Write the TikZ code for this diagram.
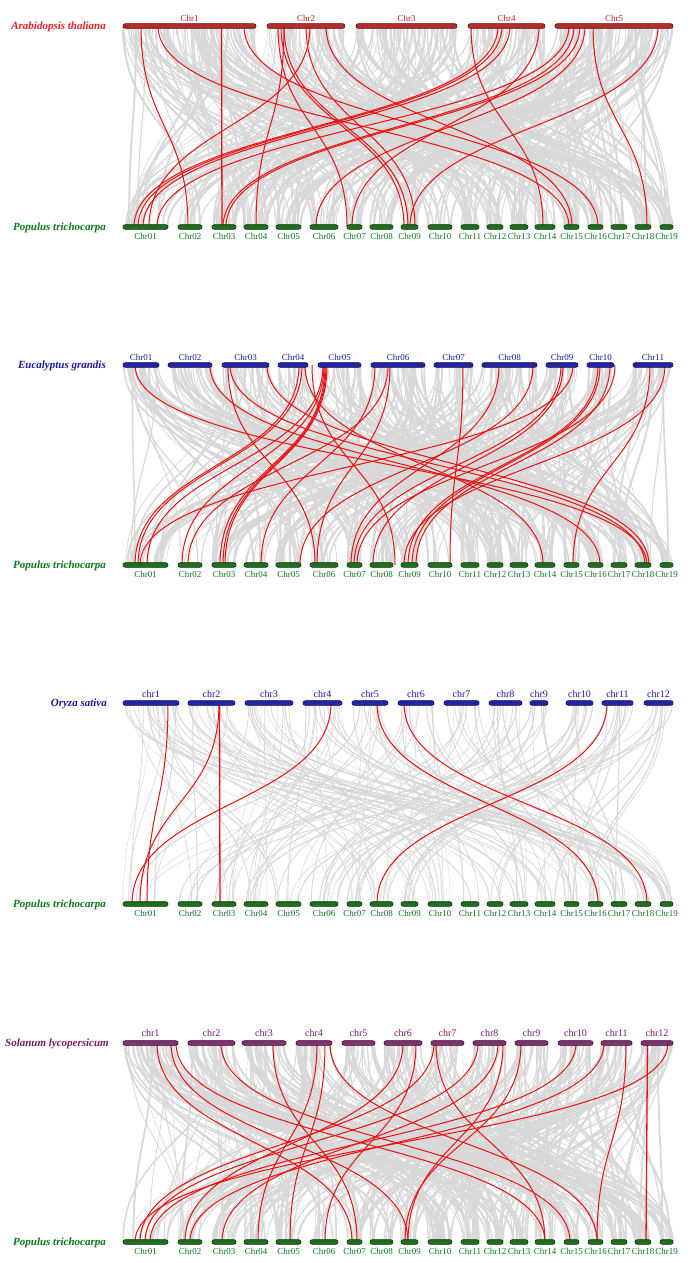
\documentclass[tikz,border=0pt]{standalone}
\usepackage{fontspec}
\setmainfont{Liberation Serif}
\definecolor{grayl}{RGB}{216,216,216}
\definecolor{redl}{RGB}{232,16,16}
\definecolor{arabred}{RGB}{228,32,36}
\definecolor{arabbar}{RGB}{182,44,44}
\definecolor{arabedge}{RGB}{90,16,16}
\definecolor{popgreen}{RGB}{10,120,30}
\definecolor{popbar}{RGB}{30,112,30}
\definecolor{popedge}{RGB}{10,50,10}
\definecolor{eublue}{RGB}{26,26,160}
\definecolor{eubar}{RGB}{36,36,170}
\definecolor{euedge}{RGB}{12,12,70}
\definecolor{solpurp}{RGB}{120,26,104}
\definecolor{solbar}{RGB}{130,50,115}
\definecolor{soledge}{RGB}{50,10,40}
\tikzset{
  graylink/.style={draw=grayl},
  redlink/.style={draw=redl,line width=1pt},
  chrbar/.style={line width=0.6pt,rounded corners=2.2pt},
  species/.style={font=\bfseries\itshape\fontsize{11}{12}\selectfont,anchor=east,inner sep=0pt},
  chrlab/.style={font=\fontsize{9}{10}\selectfont,inner sep=0pt},
  chrlabb/.style={font=\fontsize{10}{11}\selectfont,inner sep=0pt},
}
\def\PopBars{123/168,178/202,212/236,244/268,276/301,310/338,347/362,370/393,401/418,428/452,461/479,487/503,510/528,535/555,564/579,588/603,611/627,635/651,660/673}
\def\ABars{123/256,267/345,356/457,468/545,555/673}
\def\EBars{123/159,168/212,222/269,278/308,318/361,371/425,434/473,482/537,546/578,587/614,633/673}
\def\OBars{123/179,188/235,245/293,303/342,352/388,398/434,444/479,489/522,530/548,566/593,602/633,644/673}
\def\SBars{123/178,188/235,242/286,296/332,342/375,384/422,431/464,473/506,515/548,558/593,601/632,641/673}
\newcommand\graylinks[5]{%
  \pgfmathsetmacro\gmy{(#2+#3)/2}
  \foreach \s/\e in #1 {
    \pgfmathtruncatemacro\gn{max(1,round((\e-\s)/#4))}
    \foreach \k in {1,...,\gn} {
      \pgfmathsetmacro\gtx{\s+rnd*(\e-\s)}
      \pgfmathtruncatemacro\gbi{min(18,int(rnd*19))}
      \pgfmathsetmacro\gbs{{123,178,212,244,276,310,347,370,401,428,461,487,510,535,564,588,611,635,660}[\gbi]}
      \pgfmathsetmacro\gbe{{168,202,236,268,301,338,362,393,418,452,479,503,528,555,579,603,627,651,673}[\gbi]}
      \pgfmathsetmacro\gbx{\gbs+rnd*(\gbe-\gbs)}
      \pgfmathsetmacro\glw{0.3+rnd*#5}
      \draw[graylink,line width=\glw pt] (\gtx,#2) .. controls (\gtx,\gmy) and (\gbx,\gmy) .. (\gbx,#3);
    }}}
\newcommand\redlinks[3]{%
  \pgfmathsetmacro\rmy{(#2+#3)/2}
  \foreach \a/\b in {#1}
    \draw[redlink] (\a,#2) .. controls (\a,\rmy) and (\b,\rmy) .. (\b,#3);}
\newcommand\bars[4]{% list, y, fill, edge
  \foreach \s/\e in #1
    \draw[chrbar,fill=#3,draw=#4] (\s,#2-2.3) rectangle (\e,#2+2.3);}
\newcommand\poplabels[1]{%
  \foreach \s/\e [count=\i] in \PopBars {
    \pgfmathsetmacro\cx{(\s+\e)/2}
    \ifnum\i<10 \node[chrlab,text=popgreen] (p#1l\i) at (\cx,#1+9) {Chr0\i};
    \else \node[chrlab,text=popgreen] (p#1l\i) at (\cx,#1+9) {Chr\i};\fi
  }}
\newcommand\toplabels[6]{% list, y, color, prefix, zero-pad, style
  \foreach \s/\e [count=\i] in #1 {
    \pgfmathsetmacro\cx{(\s+\e)/2}
    \ifnum\i<10 \node[#6,text=#3] at (\cx,#2) {#4#5\i};
    \else \node[#6,text=#3] at (\cx,#2) {#4\i};\fi
  }}
\begin{document}
\begin{tikzpicture}[x=1pt,y=-1pt]
\useasboundingbox (0,0) rectangle (692,1263);
\fill[white] (0,0) rectangle (692,1263);
\pgfmathsetseed{11}
% ---------- gray links ----------
\graylinks{\ABars}{26}{227}{1.3}{1.8}
\graylinks{\EBars}{365}{565}{1.3}{1.8}
\graylinks{\OBars}{703}{904}{2.6}{0.9}
\graylinks{\SBars}{1043}{1242}{1.25}{1.8}
% ---------- red links ----------
\redlinks{141/188,158/569,244/598,284/256,310/149,278/347,281/404,284/408,306/415,326/572,471/543,498/134,502/138,510/143,539/352,569/157,574/223,580/226,593/647,658/410,585/316}{26}{227}
\redlinks{135/647,210/600,228/315,230/645,267/649,299/135,302/138,305/543,312/395,323/147,324/182,325/220,326/223,327/225,375/261,388/188,390/317,463/450,499/351,533/300,561/354,563/373,573/140,598/408,600/412,610/416,615/357,650/573,665/404}{365}{565}
\redlinks{168/147,219/140,331/132,377/598,404/647,607/377}{703}{904}
\redlinks{157/352,171/408,176/545,221/570,273/357,317/258,325/290,330/597,403/185,416/325,434/140,436/545,478/145,498/222,503/408,521/405,576/150,604/190,626/597,668/135}{1043}{1242}
% near-vertical links drawn straight
\draw[redlink,line width=1.3pt] (221.5,26) -- (222,227);
\draw[redlink,line width=1.3pt] (219.5,703) -- (220,904);
\draw[redlink,line width=1.3pt] (647.5,1043) -- (646,1242);
% ---------- bars ----------
\bars{\ABars}{26}{arabbar}{arabedge}
\bars{\EBars}{365}{eubar}{euedge}
\bars{\OBars}{703}{eubar}{euedge}
\bars{\SBars}{1043}{solbar}{soledge}
\bars{\PopBars}{227}{popbar}{popedge}
\bars{\PopBars}{565}{popbar}{popedge}
\bars{\PopBars}{904}{popbar}{popedge}
\bars{\PopBars}{1242}{popbar}{popedge}
% ---------- labels ----------
\toplabels{\ABars}{18}{arabred!85!black}{Chr}{}{chrlab}
\toplabels{\EBars}{357}{eublue}{Chr}{0}{chrlab}
\toplabels{\OBars}{694}{eublue}{chr}{}{chrlabb}
\toplabels{\SBars}{1033}{solpurp}{chr}{}{chrlabb}
\poplabels{227}
\poplabels{565}
\poplabels{904}
\poplabels{1242}
\node[species,text=arabred] (sA) at (106,27) {Arabidopsis thaliana};
\node[species,text=popgreen] (sP1) at (106,228) {Populus trichocarpa};
\node[species,text=eublue] (sE) at (106,366) {Eucalyptus grandis};
\node[species,text=popgreen] (sP2) at (106,566) {Populus trichocarpa};
\node[species,text=eublue] (sO) at (107,704) {Oryza sativa};
\node[species,text=popgreen] (sP3) at (106,905) {Populus trichocarpa};
\node[species,text=solpurp] (sS) at (109,1044) {Solanum lycopersicum};
\node[species,text=popgreen] (sP4) at (106,1243) {Populus trichocarpa};
\end{tikzpicture}
\end{document}
